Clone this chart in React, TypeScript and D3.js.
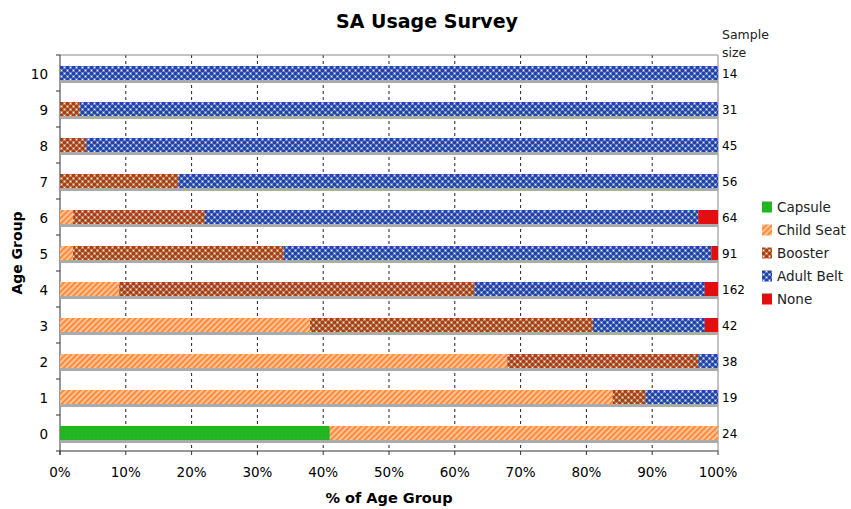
import React from "react";
import * as d3 from "d3";

const ageGroups = ["0", "1", "2", "3", "4", "5", "6", "7", "8", "9", "10"];
const capsule = [41, 0, 0, 0, 0, 0, 0, 0, 0, 0, 0];
const childSeat = [59, 84, 68, 38, 9, 2, 2, 0, 0, 0, 0];
const booster = [0, 5, 29, 43, 54, 32, 20, 18, 4, 3, 0];
const adultBelt = [0, 11, 3, 17, 35, 65, 75, 82, 96, 97, 100];
const noneUse = [0, 0, 0, 2, 2, 1, 3, 0, 0, 0, 0];
const sampleSizes = [24, 19, 38, 42, 162, 91, 64, 56, 45, 31, 14];
const seriesNames = ["Capsule", "Child Seat", "Booster", "Adult Belt", "None"];
const xTicks = [0, 10, 20, 30, 40, 50, 60, 70, 80, 90, 100];

const fills = ["url(#pCapsule)", "url(#pChild)", "url(#pBooster)", "url(#pAdult)", "url(#pNone)"];

const W = 851;
const H = 509;
const left = 60;
const right = 718;
const top = 55;
const bottom = 451;
const FONT = "'DejaVu Sans', Verdana, sans-serif";

export default function App() {
  const x = d3.scaleLinear().domain([0, 100]).range([left, right]);
  const y = d3
    .scaleBand<string>()
    .domain([...ageGroups].reverse())
    .range([top, bottom])
    .padding(0);
  const barH = 14;

  const rows = ageGroups.map((g, i) => ({
    g,
    Capsule: capsule[i],
    "Child Seat": childSeat[i],
    Booster: booster[i],
    "Adult Belt": adultBelt[i],
    None: noneUse[i],
  }));
  const stack = d3.stack<any>().keys(seriesNames);
  const layers = stack(rows);

  return (
    <svg
      width={W}
      height={H}
      style={{ position: "absolute", left: 0, top: 0, background: "#fff" }}
      fontFamily={FONT}
    >
      <defs>
        <pattern id="pCapsule" width="4" height="4" patternUnits="userSpaceOnUse">
          <rect width="4" height="4" fill="#22b422" />
          <rect x="1" y="1" width="1" height="1" fill="#2cc02c" />
        </pattern>
        <pattern id="pChild" width="4" height="4" patternUnits="userSpaceOnUse" patternTransform="rotate(45)">
          <rect width="4" height="4" fill="#ffcba4" />
          <rect width="2.2" height="4" fill="#ff8a3a" />
        </pattern>
        <pattern id="pBooster" width="6" height="6" patternUnits="userSpaceOnUse">
          <rect width="6" height="6" fill="#c8835f" />
          <rect x="0" y="0" width="3" height="3" fill="#a2431a" />
          <rect x="3" y="3" width="3" height="3" fill="#a2431a" />
          <rect x="1" y="4" width="1" height="1" fill="#fff" />
          <rect x="4" y="1" width="1" height="1" fill="#fff" />
        </pattern>
        <pattern id="pAdult" width="6" height="6" patternUnits="userSpaceOnUse">
          <rect width="6" height="6" fill="#6a86cc" />
          <rect x="0" y="0" width="3" height="3" fill="#2444a4" />
          <rect x="3" y="3" width="3" height="3" fill="#2444a4" />
          <rect x="1" y="4" width="1" height="1" fill="#fff" />
          <rect x="4" y="1" width="1" height="1" fill="#fff" />
        </pattern>
        <pattern id="pNone" width="4" height="4" patternUnits="userSpaceOnUse">
          <rect width="4" height="4" fill="#e30f0f" />
        </pattern>
      </defs>

      {/* Title */}
      <text x={427} y={28} textAnchor="middle" fontSize={19} fontWeight="bold" fill="#000">
        SA Usage Survey
      </text>

      {/* Gridlines */}
      {xTicks
        .filter((t) => t !== 0 && t !== 100)
        .map((t) => (
          <line
            key={"g" + t}
            x1={x(t)}
            x2={x(t)}
            y1={top}
            y2={bottom}
            stroke="#222"
            strokeWidth={1}
            strokeDasharray="3,3"
          />
        ))}

      {/* Frame */}
      <line x1={left} x2={right} y1={top} y2={top} stroke="#888" />
      <line x1={right} x2={right} y1={top} y2={bottom} stroke="#888" />
      <line x1={left} x2={left} y1={top} y2={bottom + 4} stroke="#333" />
      <line x1={left} x2={right} y1={bottom} y2={bottom} stroke="#333" />

      {/* Bar shadows */}
      {ageGroups.map((g) => {
        const cy = (y(g) as number) + y.bandwidth() / 2;
        return (
          <rect key={"s" + g} x={left} y={cy - barH / 2 + 3} width={right - left} height={barH} fill="#ababab" />
        );
      })}

      {/* Bars */}
      {layers.map((layer, li) =>
        layer.map((d: any, i: number) => {
          const w = x(d[1]) - x(d[0]);
          if (w <= 0) return null;
          const cy = (y(ageGroups[i]) as number) + y.bandwidth() / 2;
          return (
            <rect
              key={li + "-" + i}
              x={x(d[0])}
              y={cy - barH / 2}
              width={w}
              height={barH}
              fill={fills[li]}
            />
          );
        })
      )}

      {/* Y ticks & labels */}
      {[...ageGroups, "edge"].map((g, i) => {
        const yy = top + i * y.bandwidth();
        return <line key={"yt" + i} x1={left - 4} x2={left} y1={yy} y2={yy} stroke="#333" />;
      })}
      {ageGroups.map((g) => {
        const cy = (y(g) as number) + y.bandwidth() / 2;
        return (
          <text key={"yl" + g} x={48} y={cy + 5.5} textAnchor="end" fontSize={13.5} fill="#000">
            {g}
          </text>
        );
      })}

      {/* X tick labels */}
      {xTicks.map((t) => (
        <g key={"xl" + t}>
          <line x1={x(t)} x2={x(t)} y1={bottom} y2={bottom + 4} stroke="#333" />
          <text x={x(t)} y={477} textAnchor="middle" fontSize={13.5} fill="#000">
            {t + "%"}
          </text>
        </g>
      ))}

      {/* Sample sizes */}
      <text x={722} y={39} fontSize={12.5} fill="#222">Sample</text>
      <text x={722} y={57} fontSize={12.5} fill="#222">size</text>
      {ageGroups.map((g, i) => {
        const cy = (y(g) as number) + y.bandwidth() / 2;
        return (
          <text key={"n" + g} x={722} y={cy + 4.5} fontSize={12} fill="#000">
            {sampleSizes[i]}
          </text>
        );
      })}

      {/* Axis titles */}
      <text x={389} y={503} textAnchor="middle" fontSize={14.5} fontWeight="bold" fill="#000">
        % of Age Group
      </text>
      <text
        transform={`translate(22,253) rotate(-90)`}
        textAnchor="middle"
        fontSize={14}
        fontWeight="bold"
        fill="#000"
      >
        Age Group
      </text>

      {/* Legend */}
      {seriesNames.map((s, i) => {
        const ly = 207 + i * 23;
        return (
          <g key={"lg" + s}>
            <rect x={762} y={ly - 5.5} width={10} height={11} fill={fills[i]} />
            <text x={777} y={ly + 5} fontSize={13.5} fill="#222">
              {s}
            </text>
          </g>
        );
      })}
    </svg>
  );
}
